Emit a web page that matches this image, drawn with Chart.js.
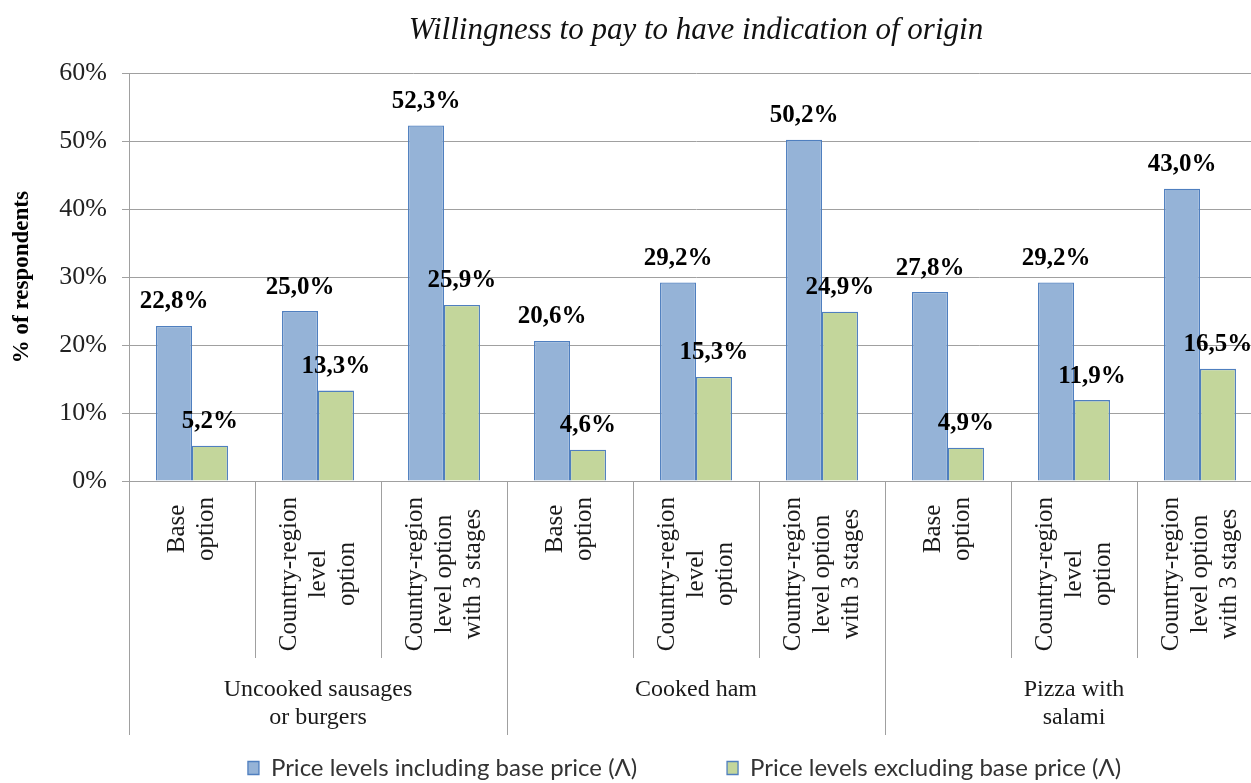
<!DOCTYPE html>
<html>
<head>
<meta charset="utf-8">
<script src="https://cdn.jsdelivr.net/npm/chart.js@4/dist/chart.umd.min.js"></script>
<style>
  html, body { margin: 0; padding: 0; overflow: hidden; background: #fff; }
</style>
</head>
<body>
<canvas id="chart" width="1263" height="783"></canvas>
<script>
// categories (one per bar pair) and the product groups below them
var items = [
  ['Base', 'option'], ['Country-region', 'level', 'option'], ['Country-region', 'level option', 'with 3 stages'],
  ['Base', 'option'], ['Country-region', 'level', 'option'], ['Country-region', 'level option', 'with 3 stages'],
  ['Base', 'option'], ['Country-region', 'level', 'option'], ['Country-region', 'level option', 'with 3 stages']
];
var groups = [['Uncooked sausages', 'or burgers'], ['Cooked ham'], ['Pizza with', 'salami']];

var seriesNames = ['Price levels including base price (\u039B)', 'Price levels excluding base price (\u039B)'];
var includingBase = [22.8, 25.0, 52.3, 20.6, 29.2, 50.2, 27.8, 29.2, 43.0];
var excludingBase = [5.2, 13.3, 25.9, 4.6, 15.3, 24.9, 4.9, 11.9, 16.5];

var yTicks = [0, 10, 20, 30, 40, 50, 60];

var serif = "'Liberation Serif', 'Times New Roman', serif";
var gridColor = '#a0a0a0';

function fmt(v) {
    return v.toFixed(1).replace('.', ',') + '%';
}

// draws the rotated category labels, group names and value labels
var textPlugin = {
    id: 'textPlugin',
    afterLayout: function (chart) {
	// Excel puts the legend a bit right of centre and lower
	chart.legend.left += 53;
	chart.legend.right += 53;
	chart.legend.top += 11;
	chart.legend.bottom += 11;
    },
    afterDraw: function (chart) {
	var ctx = chart.ctx;
	var x = chart.scales.x, x2 = chart.scales.x2;
	ctx.save();
	ctx.fillStyle = '#1a1a1a';
	ctx.textAlign = 'center';
	ctx.textBaseline = 'middle';

	ctx.font = '25px ' + serif;
	items.forEach(function (lines, i) {
	    var cx = x.getPixelForTick(i);
	    var w = Math.max.apply(null, lines.map(function (l) { return ctx.measureText(l).width; }));
	    var cy = x.top + 16 + w / 2;
	    lines.forEach(function (l, j) {
		ctx.save();
		ctx.translate(cx + (j - (lines.length - 1) / 2) * 29, cy);
		ctx.rotate(-Math.PI / 2);
		ctx.fillText(l, 0, 0);
		ctx.restore();
	    });
	});

	ctx.font = '24px ' + serif;
	groups.forEach(function (lines, i) {
	    var cx = x2.getPixelForTick(i);
	    lines.forEach(function (l, j) {
		ctx.fillText(l, cx, x2.top + 32 + j * 28);
	    });
	});

	ctx.fillStyle = '#000';
	ctx.font = 'bold 25px ' + serif;
	chart.data.datasets.forEach(function (ds, d) {
	    chart.getDatasetMeta(d).data.forEach(function (bar, i) {
		ctx.fillText(fmt(ds.data[i]), bar.x, bar.y - 24);
	    });
	});
	ctx.restore();
    }
};

new Chart(document.getElementById('chart'), {
    type: 'bar',
    data: {
	labels: items.map(function (l) { return l.join(' '); }),
	datasets: [
	    {
		label: seriesNames[0],
		data: includingBase,
		backgroundColor: '#95b3d7',
		borderColor: '#4f7fbf',
		borderWidth: 1.3
	    },
	    {
		label: seriesNames[1],
		data: excludingBase,
		backgroundColor: '#c3d69b',
		borderColor: '#4f7fbf',
		borderWidth: 1.3
	    }
	]
    },
    plugins: [textPlugin],
    options: {
	responsive: false,
	animation: false,
	devicePixelRatio: 1,
	layout: { padding: { bottom: 4 } },
	datasets: {
	    bar: { categoryPercentage: 0.571, barPercentage: 1.0 }
	},
	scales: {
	    x: {
		weight: 1,
		grid: { offset: true, drawOnChartArea: false, tickLength: 177, color: gridColor },
		border: { color: gridColor },
		ticks: { display: false },
		afterFit: function (s) { s.height = 177; }
	    },
	    x2: {
		type: 'category',
		position: 'bottom',
		weight: 2,
		labels: groups.map(function (l) { return l.join(' '); }),
		offset: true,
		grid: { offset: true, drawOnChartArea: false, tickLength: 77, color: gridColor },
		border: { display: false },
		ticks: { display: false },
		afterFit: function (s) { s.height = 77; }
	    },
	    y: {
		min: yTicks[0],
		max: yTicks[yTicks.length - 1],
		afterBuildTicks: function (s) { s.ticks = yTicks.map(function (v) { return { value: v }; }); },
		grid: { color: gridColor, tickLength: 7 },
		border: { color: gridColor },
		ticks: {
		    padding: 15,
		    color: '#222',
		    font: { family: serif, size: 26 },
		    callback: function (v) { return v + '%'; }
		},
		title: {
		    display: true,
		    text: '% of respondents',
		    color: '#000',
		    padding: { top: 8, bottom: 0 },
		    font: { family: serif, size: 23, weight: 'bold' }
		},
		afterFit: function (s) { s.width = 129; }
	    }
	},
	plugins: {
	    title: {
		display: true,
		fullSize: false,
		text: 'Willingness to pay to have indication of origin',
		color: '#111',
		padding: { top: 12, bottom: 24 },
		font: { family: serif, size: 31, style: 'italic', weight: 'normal' }
	    },
	    legend: {
		position: 'bottom',
		labels: {
		    boxWidth: 11,
		    boxHeight: 13,
		    padding: 10,
		    color: '#333',
		    font: { family: 'Lato', size: 24 },
		    generateLabels: function (chart) {
			var list = Chart.defaults.plugins.legend.labels.generateLabels(chart);
			list[0].text = list[0].text + '             ';
			return list;
		    }
		}
	    },
	    tooltip: { enabled: false }
	}
    }
});
</script>
</body>
</html>
